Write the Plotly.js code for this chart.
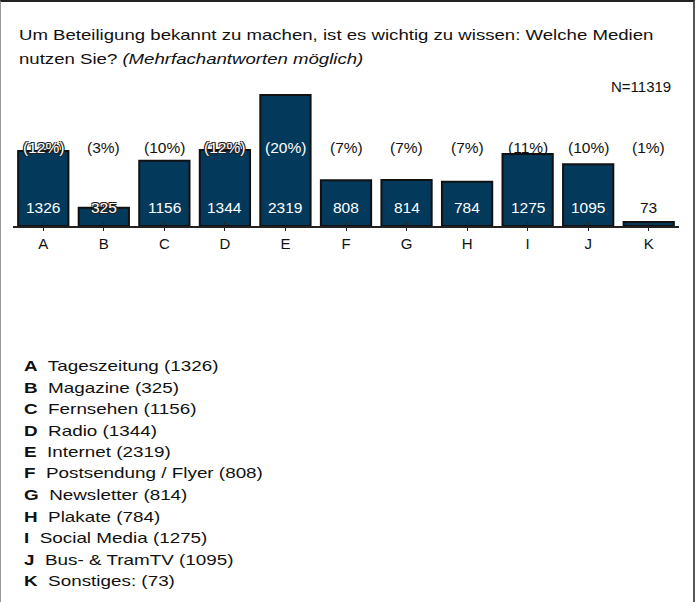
<!DOCTYPE html>
<html>
<head>
<meta charset="utf-8">
<script src="https://cdn.plot.ly/plotly-3.0.1.min.js"></script>
<style>
  html, body { margin: 0; padding: 0; background: #fff; overflow: hidden; }
  #wrap { position: relative; width: 699px; height: 602px; }
  #chart { width: 699px; height: 602px; }
  #frame { position: absolute; left: 0; top: 0; width: 692px; height: 700px;
           border-top: 2px solid #222; border-left: 1px solid #999; border-right: 2px solid #555;
           pointer-events: none; }
</style>
</head>
<body>
<div id="wrap">
  <div id="chart"></div>
  <div id="frame"></div>
</div>
<script>
// ---- data ----
const categories = ["A", "B", "C", "D", "E", "F", "G", "H", "I", "J", "K"];
const values = [1326, 325, 1156, 1344, 2319, 808, 814, 784, 1275, 1095, 73];
const percentLabels = ["(12%)", "(3%)", "(10%)", "(12%)", "(20%)", "(7%)", "(7%)", "(7%)", "(11%)", "(10%)", "(1%)"];
const mediaNames = ["Tageszeitung", "Magazine", "Fernsehen", "Radio", "Internet", "Postsendung / Flyer",
                    "Newsletter", "Plakate", "Social Media", "Bus- & TramTV", "Sonstiges:"];
const totalN = 11319;
const titleLine1 = "Um Beteiligung bekannt zu machen, ist es wichtig zu wissen: Welche Medien";
const titleLine2 = "nutzen Sie? <i>(Mehrfachantworten möglich)</i>";

// ---- layout constants ----
const FONT = "Liberation Sans, Arial, sans-serif";
const W = 699, H = 602;
const mL = 13, mR = 20, mT = 80, mB = 376;
const plotW = W - mL - mR, plotH = H - mT - mB;
const yMax = 2584;
const pctY = 1398, valY = 336, overlap = 100;
const haloDark = "-1px -1px 0 #222, 1px -1px 0 #222, -1px 1px 0 #222, 1px 1px 0 #222";

function labelStyle(v, ly) {
  if (v >= ly + overlap) return { color: "#ffffff", shadow: "none" };
  if (v <= ly - overlap) return { color: "#111111", shadow: "none" };
  return { color: "#ffffff", shadow: haloDark };
}

const annotations = [];
const stretch = {}; // annotation index -> horizontal stretch factor
categories.forEach((c, i) => {
  const sp = labelStyle(values[i], pctY);
  annotations.push({ x: c, y: pctY, xref: "x", yref: "y", text: percentLabels[i], showarrow: false,
    font: { family: FONT, size: 15.5, color: sp.color, shadow: sp.shadow } });
  const sv = labelStyle(values[i], valY);
  annotations.push({ x: c, y: valY, xref: "x", yref: "y", text: String(values[i]), showarrow: false,
    font: { family: FONT, size: 15.5, color: sv.color, shadow: sv.shadow } });
});

// paper coordinate helpers
const px = x => (x - mL) / plotW;
const py = y => (H - mB - y) / plotH;

stretch[annotations.length] = 1.24;
annotations.push({ xref: "paper", yref: "paper", x: px(17), y: py(34), xanchor: "left", yanchor: "middle", align: "left",
  text: titleLine1, showarrow: false, font: { family: FONT, size: 15, color: "#111" } });
stretch[annotations.length] = 1.24;
annotations.push({ xref: "paper", yref: "paper", x: px(17), y: py(58), xanchor: "left", yanchor: "middle", align: "left",
  text: titleLine2, showarrow: false, font: { family: FONT, size: 15, color: "#111" } });
annotations.push({ xref: "paper", yref: "paper", x: px(673), y: py(86), xanchor: "right", yanchor: "middle",
  text: "N=" + totalN, showarrow: false, font: { family: FONT, size: 15, color: "#111" } });

categories.forEach((c, i) => {
  stretch[annotations.length] = 1.3;
  annotations.push({ xref: "paper", yref: "paper", x: px(22), y: py(366 + i * 21.5), xanchor: "left", yanchor: "middle", align: "left",
    text: "<b>" + c + "</b>  " + mediaNames[i] + " (" + values[i] + ")", showarrow: false,
    font: { family: FONT, size: 14.5, color: "#111" } });
});

const trace = {
  type: "bar", x: categories, y: values,
  marker: { color: "#033a5c", line: { color: "#111", width: 2 } },
  width: 0.83, hoverinfo: "none", textposition: "none"
};
const trace2 = { type: "bar", x: categories, y: values, xaxis: "x2", yaxis: "y", opacity: 0,
  width: 0.83, hoverinfo: "none", showlegend: false };

const layout = {
  width: W, height: H,
  margin: { l: mL, r: mR, t: mT, b: mB, pad: 0 },
  paper_bgcolor: "#fff", plot_bgcolor: "rgba(0,0,0,0)",
  showlegend: false, bargap: 0.17,
  font: { family: FONT, color: "#111" },
  xaxis: { type: "category", range: [-0.5, 10.5], showline: true, linecolor: "#222", linewidth: 1.5,
    ticks: "inside", ticklen: 4, tickwidth: 1, tickcolor: "#222", showgrid: false, zeroline: false,
    ticklabelstandoff: 3,
    tickfont: { family: FONT, size: 15, color: "#111" }, fixedrange: true },
  xaxis2: { type: "category", overlaying: "x", anchor: "y", range: [-0.5, 10.5], showline: false,
    ticks: "outside", ticklen: 4, tickwidth: 1, tickcolor: "#222", showgrid: false, zeroline: false,
    showticklabels: false, fixedrange: true },
  yaxis: { range: [0, yMax], visible: false, fixedrange: true },
  annotations: annotations
};

const gd = document.getElementById("chart");
Plotly.newPlot(gd, [trace, trace2], layout, { displayModeBar: false, staticPlot: true }).then(() => {
  Object.keys(stretch).forEach(k => {
    const el = gd.querySelector('.annotation[data-index="' + k + '"] text.annotation-text');
    if (!el) return;
    const w = el.getComputedTextLength();
    if (w > 0) {
      el.setAttribute("textLength", (w * stretch[k]).toFixed(1));
      el.setAttribute("lengthAdjust", "spacingAndGlyphs");
    }
  });
});
</script>
</body>
</html>
